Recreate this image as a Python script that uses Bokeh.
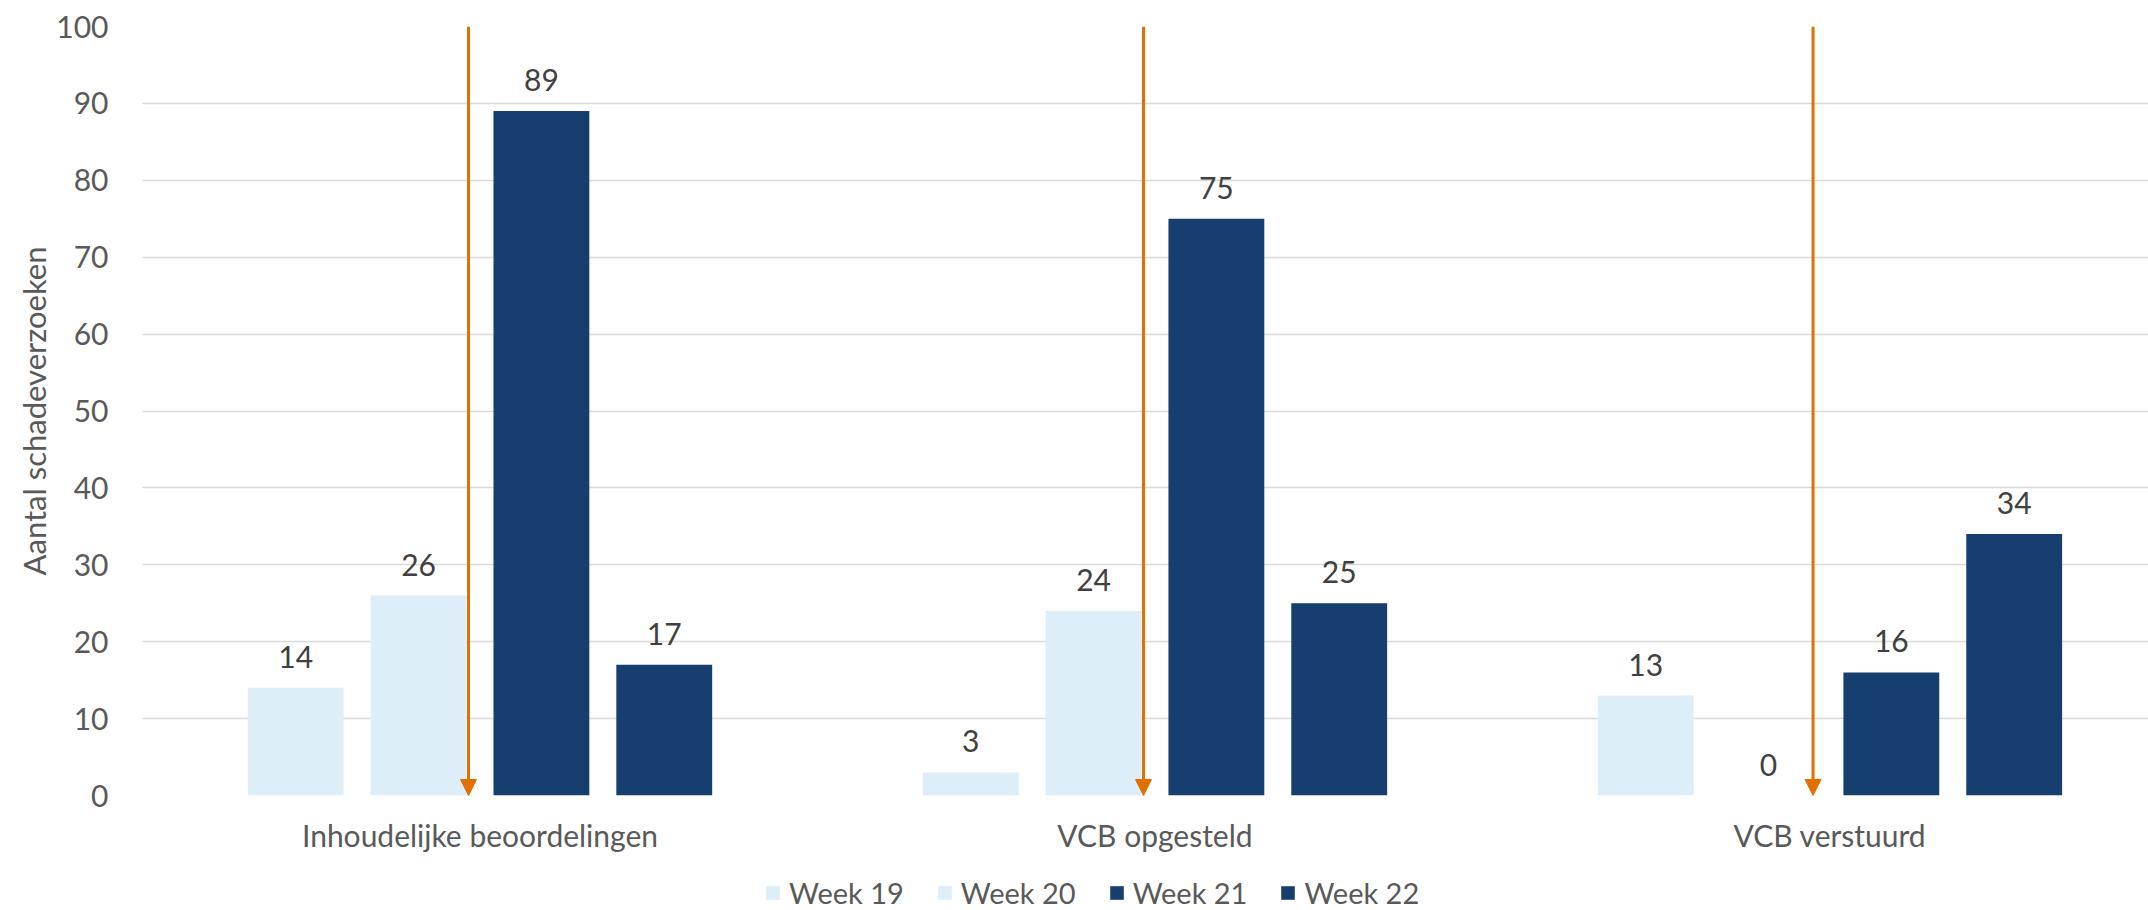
import numpy as np
from bokeh.plotting import figure
from bokeh.layouts import column
from bokeh.models import (ColumnDataSource, Arrow, NormalHead, Legend, LegendItem,
                          FixedTicker, Range1d)
from bokeh.embed import file_html
from bokeh.resources import INLINE
from bokeh.core.properties import value

# ---------------- data ----------------
categories = ["Inhoudelijke beoordelingen", "VCB opgesteld", "VCB verstuurd"]
weeks = ["Week 19", "Week 20", "Week 21", "Week 22"]
week19 = [14, 3, 13]
week20 = [26, 24, 0]
week21 = [89, 75, 16]
week22 = [17, 25, 34]
series = [week19, week20, week21, week22]
colors = ["#DDEEF8", "#DDEEF8", "#163F70", "#163F70"]
arrow_x = [-0.017, 0.983, 1.975]   # orange marker arrows (category units)
y_ticks = list(range(0, 101, 10))

FONT = "Lato"
FS = "30px"
TICK_COLOR = "#595959"
LABEL_COLOR = "#404040"
ORANGE = "#E17000"

pitch = 0.182
bar_w = 0.142
offsets = [(-1.5 + i) * pitch for i in range(4)]

p = figure(width=2148, height=860, output_backend="svg", toolbar_location=None,
           x_range=Range1d(-0.5, 2.472), y_range=Range1d(0, 100),
           min_border_left=142, min_border_right=0, min_border_top=26,
           min_border_bottom=65)
p.outline_line_color = None
p.background_fill_color = "white"

# legend strip (its own small plot, aligned under the main one);
# its y range lies far above the data so the bars themselves are not shown there
lg = figure(width=2148, height=50, output_backend="svg", toolbar_location=None,
            x_range=p.x_range, y_range=Range1d(1000, 1001),
            min_border_left=142, min_border_right=0, min_border_top=0, min_border_bottom=0)
lg.axis.visible = False
lg.grid.grid_line_color = None
lg.outline_line_color = None

items = []
for vals, off, col, wk in zip(series, offsets, colors, weeks):
    src = ColumnDataSource(dict(x=np.arange(len(categories)) + off, top=vals,
                                label=[str(v) for v in vals]))
    p.vbar(x="x", top="top", width=bar_w, source=src, fill_color=col, line_color=None)
    p.text(x="x", y="top", text="label", source=src, text_align="center",
           text_baseline="middle", y_offset=-31, text_font=value(FONT),
           text_font_size=FS, text_color=LABEL_COLOR)
    r = lg.vbar(x="x", top="top", width=bar_w, source=src, fill_color=col, line_color=None)
    items.append(LegendItem(label=wk, renderers=[r]))

arrow_src = ColumnDataSource(dict(x0=arrow_x, x1=arrow_x, y0=[100] * 3, y1=[0] * 3))
p.add_layout(Arrow(x_start="x0", y_start="y0", x_end="x1", y_end="y1", source=arrow_src,
                   line_color=ORANGE, line_width=3,
                   end=NormalHead(size=16, fill_color=ORANGE, line_color=ORANGE)))

# axes
p.xaxis.ticker = FixedTicker(ticks=[0, 1, 2])
p.xaxis.major_label_overrides = {i: c for i, c in enumerate(categories)}
p.yaxis.ticker = FixedTicker(ticks=y_ticks)
for ax in (p.xaxis[0], p.yaxis[0]):
    ax.axis_line_color = None
    ax.major_tick_line_color = None
    ax.minor_tick_line_color = None
    ax.major_label_text_font = FONT
    ax.major_label_text_font_size = FS
    ax.major_label_text_color = TICK_COLOR
p.xaxis.major_label_standoff = 15
p.yaxis.major_label_standoff = 28
p.yaxis.axis_label = "Aantal schadeverzoeken"
p.yaxis.axis_label_text_font = FONT
p.yaxis.axis_label_text_font_size = "31px"
p.yaxis.axis_label_text_font_style = "normal"
p.yaxis.axis_label_text_color = TICK_COLOR
p.yaxis.axis_label_standoff = 0

p.xgrid.grid_line_color = None
p.ygrid.grid_line_color = "#D9D9D9"
p.ygrid.grid_line_width = 1.5

legend = Legend(items=items, orientation="horizontal", location=(622, 0),
                border_line_color=None, background_fill_alpha=0,
                glyph_width=17, glyph_height=17, label_standoff=8, spacing=32,
                label_text_font=FONT, label_text_font_size="29px",
                label_text_color=TICK_COLOR, padding=0, margin=0)
lg.add_layout(legend, "center")

layout = column(p, lg, spacing=0)
open("out.html", "w").write(file_html(layout, INLINE))
